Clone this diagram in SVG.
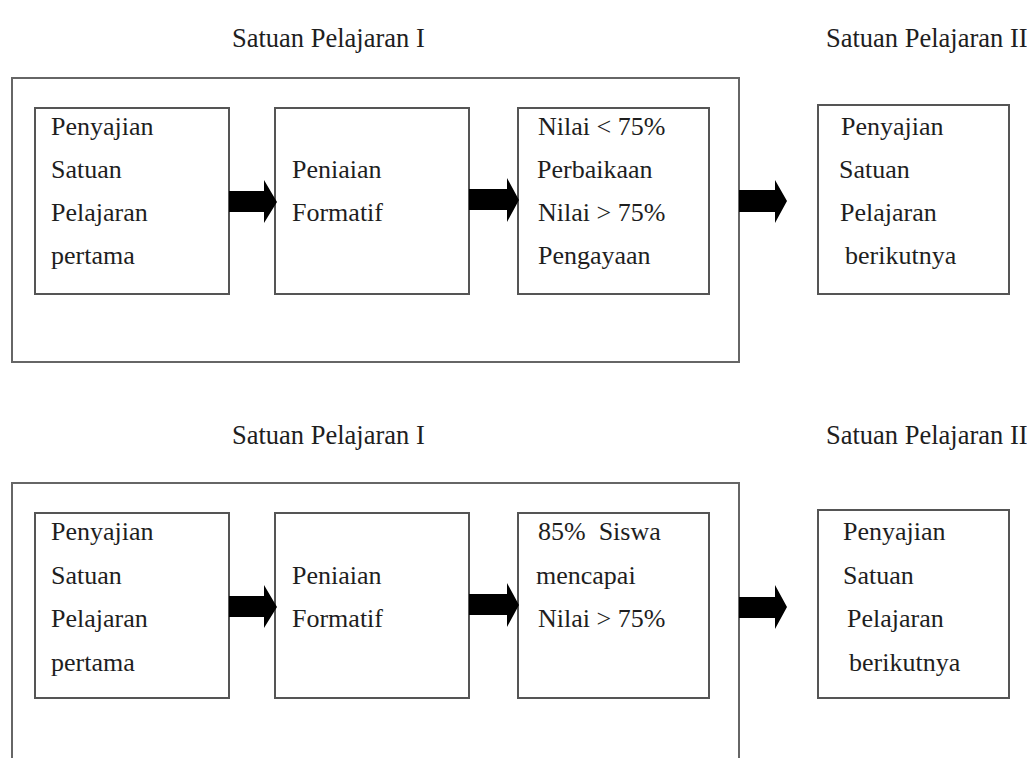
<svg xmlns="http://www.w3.org/2000/svg" width="1027" height="758" viewBox="0 0 1027 758">
<style>
text{font-family:"Liberation Serif","Times New Roman",serif;font-size:26px;fill:#1e1e1e;white-space:pre}
.title{font-size:26.5px}
.outer{fill:none;stroke:#666;stroke-width:2}
.box{fill:#fff;stroke:#555;stroke-width:2}
.arr{fill:#000}
</style>
<rect width="1027" height="758" fill="#fff"/>
<text class="title" x="232" y="47">Satuan Pelajaran I</text>
<text class="title" x="826" y="47">Satuan Pelajaran II</text>
<text class="title" x="232" y="444">Satuan Pelajaran I</text>
<text class="title" x="826" y="444">Satuan Pelajaran II</text>
<g id="outer1"><rect class="outer" x="12" y="78" width="727" height="284"/></g>
<g id="outer2"><path class="outer" d="M12,760 V483 H739 V760"/></g>
<g id="t1"><rect class="box" x="35" y="108" width="194" height="186"/>
<text x="51" y="135">Penyajian</text><text x="51" y="178">Satuan</text><text x="51" y="221">Pelajaran</text><text x="51" y="264">pertama</text></g>
<g id="t2"><rect class="box" x="275" y="108" width="194" height="186"/>
<text x="292" y="178">Peniaian</text><text x="292" y="221">Formatif</text></g>
<g id="t3"><rect class="box" x="518" y="108" width="191" height="186"/>
<text x="538" y="135">Nilai &lt; 75%</text><text x="537" y="178">Perbaikaan</text><text x="538" y="221">Nilai &gt; 75%</text><text x="538" y="264">Pengayaan</text></g>
<g id="t4"><rect class="box" x="818" y="105" width="191" height="189"/>
<text x="841" y="135">Penyajian</text><text x="839" y="178">Satuan</text><text x="840" y="221">Pelajaran</text><text x="845" y="264">berikutnya</text></g>
<g id="b1"><rect class="box" x="35" y="513" width="194" height="185"/>
<text x="51" y="540">Penyajian</text><text x="51" y="584">Satuan</text><text x="51" y="627">Pelajaran</text><text x="51" y="671">pertama</text></g>
<g id="b2"><rect class="box" x="275" y="513" width="194" height="185"/>
<text x="292" y="584">Peniaian</text><text x="292" y="627">Formatif</text></g>
<g id="b3"><rect class="box" x="518" y="513" width="191" height="185"/>
<text x="538" y="540">85%  Siswa</text><text x="536" y="584">mencapai</text><text x="538" y="627">Nilai &gt; 75%</text></g>
<g id="b4"><rect class="box" x="818" y="510" width="191" height="188"/>
<text x="843" y="540">Penyajian</text><text x="843" y="584">Satuan</text><text x="847" y="627">Pelajaran</text><text x="849" y="671">berikutnya</text></g>
<g id="connectors">
<polygon class="arr" points="229,191 264,191 264,180 277,202 264,223 264,212 229,212"/>
<polygon class="arr" points="469,189 507,189 507,178 519,200 507,222 507,210 469,210"/>
<polygon class="arr" points="739,190 775,190 775,180 787,201 775,223 775,212 739,212"/>
<polygon class="arr" points="229,596 264,596 264,585 277,607 264,628 264,617 229,617"/>
<polygon class="arr" points="469,594 507,594 507,583 519,605 507,627 507,615 469,615"/>
<polygon class="arr" points="739,597 775,597 775,585 787,607 775,629 775,618 739,618"/>
</g>
</svg>
